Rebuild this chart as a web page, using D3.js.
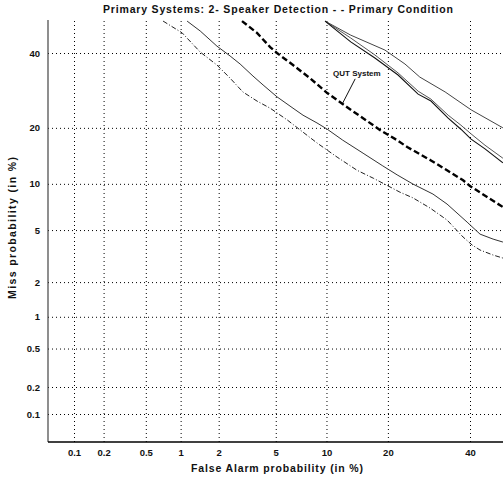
<!DOCTYPE html>
<html><head><meta charset="utf-8">
<script src="https://cdn.jsdelivr.net/npm/d3@7"></script>
<style>
body{margin:0;background:#fff}
svg{display:block}
text{font-family:"Liberation Sans",Arial,sans-serif;font-weight:bold;fill:#111}
</style></head><body>
<svg id="chart" width="503" height="477"></svg>
<script>
// ---- data (percent) ----
const tickValues = [0.1, 0.2, 0.5, 1, 2, 5, 10, 20, 40];
const tickLabels = ["0.1", "0.2", "0.5", "1", "2", "5", "10", "20", "40"];

const sysA_fa   = [0.71,1.03,1.44,1.94,2.43,3.0,3.76,4.6,5.9,7.1,8.9,11.4,14.4,17.2,19.8,22.5,25.4,29.5,33.8,38.1,40.6,42.8,46.5,49.3];
const sysA_miss = [49.9,46.2,40.3,36.4,32.6,28.8,26.4,24.6,21.8,19.5,16.8,14.2,12.0,10.8,9.8,8.9,8.2,7.05,5.87,4.46,3.9,3.58,3.28,3.11];

const sysB_fa   = [1.13,1.44,1.94,2.43,2.87,3.53,4.13,5.09,6.41,7.36,8.86,10.1,12.2,15.4,19.0,21.9,25.4,30.2,33.8,39.2,42.8,46.5,49.3];
const sysB_miss = [49.9,46.8,42.1,39.1,36.7,33.2,30.7,27.5,24.6,22.9,21.1,19.7,17.4,14.9,12.7,11.3,9.97,8.66,7.49,5.68,4.68,4.31,4.10];

const qut_fa    = [2.96,3.76,4.6,5.09,6.41,8.08,10.1,12.8,15.4,18.5,21.9,24.1,29.5,33.8,38.1,40.0,44.8,49.3];
const qut_miss  = [49.9,46.2,41.8,40.0,36.4,32.6,28.5,24.9,22.2,19.5,17.4,16.05,13.7,12.0,10.5,9.7,8.3,7.16];

const sysD_fa   = [9.82,13.4,17.5,22.1,26.6,29.7,34.1,37.5,40.3,44.2,49.3];
const sysD_miss = [49.9,43.4,38.5,33.5,28.2,26.4,22.2,19.7,17.6,15.7,13.2];
const sysE_fa   = [9.82,13.4,17.5,22.1,26.6,29.7,34.1,37.5,40.3,44.2,49.3];
const sysE_miss = [49.9,44.6,39.4,34.1,29.0,26.9,22.9,20.6,18.7,16.4,14.0];
const sysF_fa   = [9.82,13.4,19.4,23.6,27.0,33.3,40.3,49.3];
const sysF_miss = [49.9,45.5,40.9,36.7,32.9,28.8,24.2,20.0];

const annotText = "QUT System";
const annotTextPos = [10.85, 33.2];
const annotArrow = [[14.1, 32.4], [12.2, 25.9]];

// ---- normal deviate ----
function probit(p){
  const a=[-3.969683028665376e+01,2.209460984245205e+02,-2.759285104469687e+02,1.383577518672690e+02,-3.066479806614716e+01,2.506628277459239e+00];
  const b=[-5.447609879822406e+01,1.615858368580409e+02,-1.556989798598866e+02,6.680131188771972e+01,-1.328068155288572e+01];
  const c=[-7.784894002430293e-03,-3.223964580411365e-01,-2.400758277161838e+00,-2.549732539343734e+00,4.374664141464968e+00,2.938163982698783e+00];
  const d=[7.784695709041462e-03,3.224671290700398e-01,2.445134137142996e+00,3.754408661907416e+00];
  const pl=0.02425;
  if(p<pl){const q=Math.sqrt(-2*Math.log(p));return (((((c[0]*q+c[1])*q+c[2])*q+c[3])*q+c[4])*q+c[5])/((((d[0]*q+d[1])*q+d[2])*q+d[3])*q+1);}
  if(p>1-pl){const q=Math.sqrt(-2*Math.log(1-p));return -(((((c[0]*q+c[1])*q+c[2])*q+c[3])*q+c[4])*q+c[5])/((((d[0]*q+d[1])*q+d[2])*q+d[3])*q+1);}
  const q=p-0.5,r=q*q;return (((((a[0]*r+a[1])*r+a[2])*r+a[3])*r+a[4])*r+a[5])*q/(((((b[0]*r+b[1])*r+b[2])*r+b[3])*r+b[4])*r+1);
}
const pz = v => probit(v/100);

// ---- layout ----
const plotL = 48, plotR = 503, plotT = 20, plotB = 442;
const svg = d3.select("#chart");
const x = d3.scaleLinear().domain([pz(0.1), pz(40)]).range([74, 470]);
const y = d3.scaleLinear().domain([pz(0.1), pz(40)]).range([414, 53]);
const X = v => x(pz(v)), Y = v => y(pz(v));

svg.append("defs").append("clipPath").attr("id","clip")
  .append("rect").attr("x",plotL).attr("y",plotT).attr("width",plotR-plotL+5).attr("height",plotB-plotT);

// grid via axes
const xGrid = svg.append("g").attr("transform",`translate(0,${plotB})`)
  .call(d3.axisBottom(x).tickValues(tickValues.map(pz)).tickSize(-(plotB-plotT)).tickFormat(""));
const yGrid = svg.append("g").attr("transform",`translate(${plotL},0)`)
  .call(d3.axisLeft(y).tickValues(tickValues.map(pz)).tickSize(-(plotR-plotL)).tickFormat(""));
[xGrid,yGrid].forEach(g=>{
  g.select(".domain").remove();
  g.selectAll(".tick line").attr("stroke","#000").attr("stroke-width",1).attr("stroke-dasharray","1,3");
});

// tick labels via axes
const xAx = svg.append("g").attr("transform",`translate(0,${plotB})`)
  .call(d3.axisBottom(x).tickValues(tickValues.map(pz)).tickSize(0).tickPadding(7).tickFormat((d,i)=>tickLabels[i]));
const yAx = svg.append("g").attr("transform",`translate(${plotL},0)`)
  .call(d3.axisLeft(y).tickValues(tickValues.map(pz)).tickSize(0).tickPadding(8).tickFormat((d,i)=>tickLabels[i]));
[xAx,yAx].forEach(g=>{
  g.select(".domain").remove();
  g.selectAll("text").attr("font-size","9.5px").attr("font-family",'"Liberation Sans",Arial,sans-serif').attr("font-weight","bold").attr("fill","#111");
});

// axis lines
svg.append("line").attr("x1",plotL).attr("x2",plotL).attr("y1",plotT).attr("y2",plotB).attr("stroke","#444").attr("stroke-width",1.2);
svg.append("line").attr("x1",plotL).attr("x2",plotR).attr("y1",plotB).attr("y2",plotB).attr("stroke","#000").attr("stroke-width",1.5);

// curves
const line = d3.line().x(d=>X(d[0])).y(d=>Y(d[1]));
const zip = (a,b)=>a.map((v,i)=>[v,b[i]]);
const curves = [
  {fa:sysA_fa, miss:sysA_miss, w:1,   dash:"5,2,1,2", col:"#222"},
  {fa:sysB_fa, miss:sysB_miss, w:1,   dash:null,      col:"#333"},
  {fa:sysF_fa, miss:sysF_miss, w:1,   dash:null,      col:"#444"},
  {fa:sysE_fa, miss:sysE_miss, w:1,   dash:null,      col:"#555"},
  {fa:sysD_fa, miss:sysD_miss, w:1.1, dash:null,      col:"#111"},
  {fa:qut_fa,  miss:qut_miss,  w:2.4, dash:"6,3",     col:"#000"}
];
const cg = svg.append("g").attr("clip-path","url(#clip)");
curves.forEach(c=>{
  cg.append("path").attr("d",line(zip(c.fa,c.miss))).attr("fill","none")
    .attr("stroke",c.col).attr("stroke-width",c.w).attr("stroke-dasharray",c.dash);
});

// annotation
svg.append("text").attr("x",X(annotTextPos[0])).attr("y",Y(annotTextPos[1]))
  .attr("font-size","8px").text(annotText);
svg.append("line").attr("x1",X(annotArrow[0][0])).attr("y1",Y(annotArrow[0][1]))
  .attr("x2",X(annotArrow[1][0])).attr("y2",Y(annotArrow[1][1])).attr("stroke","#111").attr("stroke-width",1);

// titles
svg.append("text").attr("x",278).attr("y",13).attr("text-anchor","middle").attr("font-size","10.5px")
  .attr("textLength",350).attr("lengthAdjust","spacing")
  .text("Primary Systems: 2- Speaker Detection - -  Primary Condition");
svg.append("text").attr("x",277).attr("y",472).attr("text-anchor","middle").attr("font-size","10.5px")
  .attr("textLength",172).attr("lengthAdjust","spacing")
  .text("False Alarm probability (in %)");
svg.append("text").attr("transform","translate(16,228) rotate(-90)").attr("text-anchor","middle").attr("font-size","10.5px")
  .attr("textLength",142).attr("lengthAdjust","spacing")
  .text("Miss probability (in %)");
</script>
</body></html>
